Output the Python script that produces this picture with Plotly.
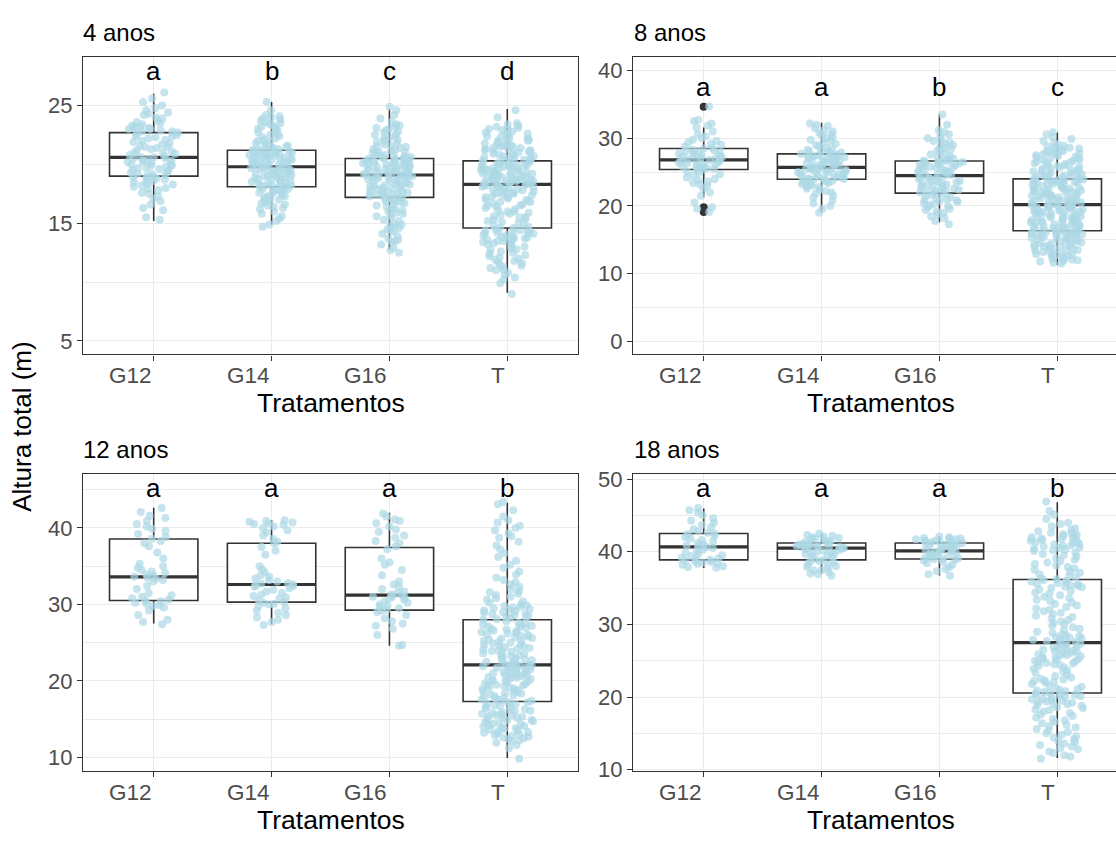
import plotly.graph_objects as go

# ---------------- data ----------------
categorias = ["G12", "G14", "G16", "T"]
idades = ["4 anos", "8 anos", "12 anos", "18 anos"]

letras_4 = ["a", "b", "c", "d"]
letras_8 = ["a", "a", "b", "c"]
letras_12 = ["a", "a", "a", "b"]
letras_18 = ["a", "a", "a", "b"]

# box statistics (lower whisker, Q1, median, Q3, upper whisker)
lo_4 = [15.2, 14.9, 12.8, 9.1]
q1_4 = [19.0, 18.1, 17.2, 14.6]
med_4 = [20.6, 19.8, 19.1, 18.3]
q3_4 = [22.7, 21.2, 20.5, 20.3]
hi_4 = [26.0, 25.3, 24.7, 24.7]

lo_8 = [21.3, 19.1, 17.6, 11.3]
q1_8 = [25.4, 23.95, 21.9, 16.35]
med_8 = [26.8, 25.7, 24.5, 20.2]
q3_8 = [28.5, 27.7, 26.65, 24.0]
hi_8 = [31.6, 32.3, 33.5, 30.85]
outliers_8_G12 = [34.65, 19.8, 19.1]

lo_12 = [27.5, 27.4, 24.6, 9.9]
q1_12 = [30.5, 30.3, 29.25, 17.3]
med_12 = [33.6, 32.6, 31.2, 22.1]
q3_12 = [38.55, 38.0, 37.45, 28.0]
hi_12 = [42.65, 41.0, 42.0, 43.3]

lo_18 = [37.74, 36.98, 36.71, 11.6]
q1_18 = [38.87, 38.87, 39.0, 20.55]
med_18 = [40.66, 40.48, 40.12, 27.5]
q3_18 = [42.5, 41.2, 41.2, 36.17]
hi_18 = [45.96, 42.55, 42.1, 46.8]

# individual tree heights (m)
alt4_G12 = [15.3, 15.5, 16.1, 16.3, 16.6, 16.9, 17.1, 17.3, 17.5, 17.6, 17.8, 17.9, 18.0, 18.1, 18.2, 18.3, 18.4, 18.5, 18.5, 18.6, 18.7, 18.8, 18.8, 18.9, 19.0,
            19.0, 19.1, 19.2, 19.2, 19.3, 19.4, 19.5, 19.5, 19.6, 19.7, 19.7, 19.8, 19.9, 19.9, 20.0, 20.0, 20.1, 20.2, 20.2, 20.3, 20.3, 20.4, 20.5, 20.5, 20.6,
            20.6, 20.7, 20.8, 20.9, 21.0, 21.0, 21.1, 21.2, 21.3, 21.4, 21.5, 21.5, 21.6, 21.7, 21.8, 21.9, 22.0, 22.1, 22.2, 22.3, 22.4, 22.4, 22.5, 22.6, 22.7,
            22.8, 22.8, 22.9, 23.0, 23.0, 23.1, 23.1, 23.2, 23.2, 23.3, 23.4, 23.5, 23.6, 23.7, 23.9, 24.0, 24.2, 24.3, 24.4, 24.6, 24.8, 25.0, 25.3, 25.6, 26.1]
alt4_G14 = [14.7, 14.9, 15.2, 15.4, 15.6, 15.8, 16.0, 16.2, 16.3, 16.4, 16.5, 16.6, 16.7, 16.8, 16.9, 17.0, 17.0, 17.1, 17.2, 17.3, 17.3, 17.4, 17.5, 17.5, 17.6, 17.7, 17.7, 17.8, 17.8, 17.9, 17.9, 18.0, 18.0, 18.1, 18.1,
            18.2, 18.2, 18.3, 18.3, 18.4, 18.4, 18.5, 18.5, 18.6, 18.6, 18.7, 18.7, 18.8, 18.8, 18.9, 18.9, 19.0, 19.0, 19.1, 19.1, 19.2, 19.2, 19.3, 19.3, 19.4, 19.4, 19.5, 19.5, 19.5, 19.6, 19.6, 19.7, 19.7, 19.8, 19.8,
            19.8, 19.9, 19.9, 20.0, 20.0, 20.0, 20.1, 20.1, 20.2, 20.2, 20.3, 20.3, 20.4, 20.4, 20.5, 20.5, 20.5, 20.6, 20.6, 20.7, 20.7, 20.8, 20.8, 20.8, 20.9, 20.9, 21.0, 21.0, 21.0, 21.1, 21.1, 21.1, 21.2, 21.2, 21.2,
            21.3, 21.3, 21.4, 21.5, 21.5, 21.6, 21.7, 21.8, 21.8, 21.9, 22.0, 22.1, 22.2, 22.3, 22.4, 22.5, 22.6, 22.7, 22.8, 22.9, 23.0, 23.1, 23.2, 23.3, 23.4, 23.5, 23.6, 23.7, 23.8, 23.9, 24.0, 24.1, 24.2, 24.6, 25.3]
alt4_G16 = [12.5, 12.7, 12.9, 13.2, 13.4, 13.5, 13.6, 13.7, 13.9, 14.1, 14.3, 14.4, 14.5, 14.6, 14.7, 14.8, 14.9, 15.0, 15.2, 15.3, 15.5, 15.6, 15.7, 15.8, 15.9, 16.0, 16.1, 16.2, 16.3, 16.4, 16.5, 16.6, 16.7, 16.8, 16.9, 16.9, 17.0, 17.1, 17.1, 17.2,
            17.2, 17.3, 17.3, 17.4, 17.4, 17.5, 17.5, 17.6, 17.6, 17.7, 17.7, 17.8, 17.8, 17.9, 17.9, 18.0, 18.0, 18.1, 18.1, 18.2, 18.2, 18.3, 18.3, 18.4, 18.4, 18.5, 18.5, 18.6, 18.6, 18.7, 18.7, 18.8, 18.8, 18.9, 18.9, 19.0, 19.0, 19.0, 19.1, 19.1,
            19.1, 19.2, 19.2, 19.2, 19.3, 19.3, 19.4, 19.4, 19.4, 19.5, 19.5, 19.6, 19.6, 19.6, 19.7, 19.7, 19.8, 19.8, 19.8, 19.9, 19.9, 20.0, 20.0, 20.0, 20.1, 20.1, 20.1, 20.2, 20.2, 20.2, 20.3, 20.3, 20.3, 20.4, 20.4, 20.4, 20.5, 20.5, 20.5, 20.5,
            20.6, 20.6, 20.7, 20.7, 20.8, 20.8, 20.9, 21.0, 21.0, 21.1, 21.2, 21.2, 21.3, 21.4, 21.5, 21.5, 21.6, 21.7, 21.8, 21.9, 22.0, 22.1, 22.2, 22.3, 22.4, 22.5, 22.6, 22.7, 22.8, 22.9, 23.0, 23.1, 23.2, 23.3, 23.4, 23.6, 23.9, 24.2, 24.6, 24.9]
alt4_T = [9.0, 9.9, 10.2, 10.4, 10.6, 10.8, 11.0, 11.1, 11.2, 11.3, 11.4, 11.5, 11.6, 11.7, 11.8, 11.9, 12.0, 12.1, 12.2, 12.3, 12.4, 12.5, 12.6, 12.7, 12.8, 12.9, 13.0, 13.1, 13.2, 13.3, 13.3, 13.4, 13.4, 13.5, 13.5, 13.6, 13.6, 13.7, 13.7, 13.8, 13.8, 13.9, 13.9, 14.0, 14.0, 14.1, 14.1, 14.2, 14.2, 14.3, 14.3, 14.4, 14.4, 14.5, 14.6,
          14.6, 14.7, 14.8, 14.9, 15.0, 15.1, 15.2, 15.3, 15.4, 15.5, 15.5, 15.6, 15.7, 15.8, 15.9, 16.0, 16.0, 16.1, 16.2, 16.3, 16.4, 16.5, 16.5, 16.6, 16.7, 16.8, 16.8, 16.9, 17.0, 17.0, 17.1, 17.2, 17.2, 17.3, 17.4, 17.4, 17.5, 17.5, 17.6, 17.6, 17.7, 17.7, 17.8, 17.8, 17.9, 17.9, 18.0, 18.0, 18.1, 18.1, 18.1, 18.2, 18.2, 18.3, 18.3,
          18.3, 18.4, 18.4, 18.4, 18.5, 18.5, 18.5, 18.6, 18.6, 18.6, 18.7, 18.7, 18.7, 18.8, 18.8, 18.8, 18.9, 18.9, 18.9, 19.0, 19.0, 19.0, 19.1, 19.1, 19.1, 19.2, 19.2, 19.2, 19.3, 19.3, 19.4, 19.4, 19.4, 19.5, 19.5, 19.5, 19.6, 19.6, 19.7, 19.7, 19.7, 19.8, 19.8, 19.8, 19.9, 19.9, 19.9, 20.0, 20.0, 20.1, 20.1, 20.1, 20.2, 20.2, 20.3,
          20.3, 20.4, 20.4, 20.5, 20.5, 20.6, 20.6, 20.7, 20.7, 20.8, 20.8, 20.9, 20.9, 21.0, 21.0, 21.1, 21.1, 21.2, 21.2, 21.3, 21.3, 21.4, 21.4, 21.5, 21.5, 21.6, 21.6, 21.7, 21.7, 21.8, 21.9, 21.9, 22.0, 22.0, 22.1, 22.2, 22.2, 22.3, 22.3, 22.4, 22.5, 22.6, 22.6, 22.7, 22.8, 22.9, 23.0, 23.0, 23.1, 23.2, 23.3, 23.4, 23.5, 24.0, 24.6]

alt8_G12 = [19.1, 19.6, 19.8, 20.5, 21.5, 22.0, 22.6, 23.0, 23.2, 23.4, 23.6, 23.8, 24.0, 24.2, 24.5, 24.7, 24.9, 25.1, 25.3,
            25.4, 25.5, 25.6, 25.7, 25.8, 25.9, 26.0, 26.1, 26.2, 26.3, 26.4, 26.5, 26.6, 26.7, 26.8, 26.8,
            26.9, 27.0, 27.1, 27.2, 27.3, 27.4, 27.5, 27.6, 27.7, 27.8, 27.9, 28.0, 28.1, 28.2, 28.3, 28.5,
            28.6, 28.8, 29.0, 29.2, 29.4, 29.6, 29.8, 30.0, 30.3, 30.6, 31.0, 31.6, 31.9, 32.2, 32.5, 32.7, 34.7]
alt8_G14 = [19.0, 19.6, 20.0, 20.4, 20.8, 21.2, 21.5, 21.8, 22.0, 22.2, 22.4, 22.6, 22.8, 22.9, 23.0, 23.1, 23.2, 23.3, 23.4, 23.5, 23.6, 23.7, 23.8, 23.9, 23.9,
            24.0, 24.1, 24.1, 24.2, 24.3, 24.4, 24.4, 24.5, 24.6, 24.7, 24.8, 24.8, 24.9, 25.0, 25.0, 25.1, 25.2, 25.2, 25.3, 25.4, 25.4, 25.5, 25.6, 25.6, 25.7,
            25.8, 25.9, 26.0, 26.0, 26.1, 26.2, 26.3, 26.4, 26.5, 26.6, 26.6, 26.7, 26.8, 26.9, 27.0, 27.0, 27.1, 27.2, 27.3, 27.3, 27.4, 27.5, 27.5, 27.6, 27.7,
            27.8, 27.9, 28.0, 28.1, 28.2, 28.3, 28.4, 28.6, 28.8, 29.0, 29.2, 29.4, 29.6, 29.8, 30.0, 30.2, 30.4, 30.6, 30.8, 31.0, 31.2, 31.5, 31.8, 32.0, 32.2]
alt8_G16 = [17.3, 17.8, 18.2, 18.5, 18.8, 19.0, 19.2, 19.4, 19.6, 19.8, 20.0, 20.1, 20.3, 20.4, 20.6, 20.7, 20.8, 20.9, 21.0, 21.2, 21.3, 21.5, 21.6, 21.8, 21.9,
            22.0, 22.1, 22.2, 22.3, 22.4, 22.5, 22.6, 22.7, 22.8, 22.9, 23.0, 23.1, 23.2, 23.3, 23.4, 23.5, 23.6, 23.7, 23.8, 23.9, 24.0, 24.1, 24.2, 24.3, 24.5,
            24.5, 24.6, 24.7, 24.8, 24.9, 25.0, 25.1, 25.2, 25.3, 25.4, 25.5, 25.6, 25.7, 25.8, 25.9, 26.0, 26.1, 26.2, 26.3, 26.3, 26.4, 26.5, 26.5, 26.6, 26.6,
            26.7, 26.8, 26.9, 27.0, 27.2, 27.4, 27.6, 27.8, 28.0, 28.2, 28.4, 28.6, 28.8, 29.0, 29.2, 29.4, 29.6, 29.8, 30.0, 30.3, 30.6, 30.9, 31.2, 32.0, 33.5]
alt8_T = [11.5, 11.6, 11.8, 11.9, 12.0, 12.1, 12.2, 12.3, 12.4, 12.5, 12.6, 12.7, 12.8, 12.9, 13.0, 13.1, 13.2, 13.3, 13.4, 13.5, 13.5, 13.6, 13.7, 13.8, 13.9, 14.0, 14.0, 14.1, 14.2, 14.3, 14.4, 14.5, 14.5, 14.6, 14.7, 14.8, 14.9, 15.0, 15.0, 15.1, 15.2, 15.3, 15.4, 15.4, 15.5, 15.6, 15.6, 15.7, 15.8, 15.8, 15.9, 15.9, 16.0, 16.0, 16.1, 16.1, 16.2, 16.2, 16.3, 16.3,
          16.4, 16.5, 16.5, 16.6, 16.7, 16.7, 16.8, 16.9, 16.9, 17.0, 17.1, 17.1, 17.2, 17.3, 17.3, 17.4, 17.5, 17.5, 17.6, 17.7, 17.7, 17.8, 17.9, 17.9, 18.0, 18.1, 18.1, 18.2, 18.3, 18.3, 18.4, 18.5, 18.5, 18.6, 18.7, 18.7, 18.8, 18.9, 18.9, 19.0, 19.1, 19.1, 19.2, 19.3, 19.3, 19.4, 19.5, 19.5, 19.6, 19.7, 19.7, 19.8, 19.8, 19.9, 19.9, 20.0, 20.0, 20.1, 20.1, 20.2,
          20.2, 20.3, 20.3, 20.4, 20.5, 20.5, 20.6, 20.7, 20.7, 20.8, 20.9, 20.9, 21.0, 21.1, 21.1, 21.2, 21.3, 21.3, 21.4, 21.5, 21.5, 21.6, 21.7, 21.7, 21.8, 21.9, 21.9, 22.0, 22.1, 22.1, 22.2, 22.3, 22.3, 22.4, 22.5, 22.5, 22.6, 22.7, 22.7, 22.8, 22.9, 22.9, 23.0, 23.1, 23.1, 23.2, 23.3, 23.3, 23.4, 23.5, 23.5, 23.6, 23.6, 23.7, 23.7, 23.8, 23.8, 23.9, 23.9, 24.0,
          24.0, 24.1, 24.2, 24.3, 24.3, 24.4, 24.5, 24.6, 24.7, 24.7, 24.8, 24.9, 25.0, 25.1, 25.2, 25.2, 25.3, 25.4, 25.5, 25.6, 25.7, 25.8, 25.9, 26.0, 26.1, 26.2, 26.3, 26.4, 26.5, 26.6, 26.7, 26.8, 26.9, 27.0, 27.1, 27.2, 27.3, 27.4, 27.5, 27.6, 27.7, 27.8, 27.9, 28.0, 28.1, 28.2, 28.3, 28.4, 28.5, 28.6, 28.7, 28.8, 28.9, 29.1, 29.3, 29.6, 29.9, 30.2, 30.6, 30.9]

alt12_G12 = [27.4, 27.7, 28.0, 28.6, 29.2, 29.6, 29.8, 29.9, 30.1, 30.2, 30.4, 30.5,
             30.6, 30.8, 31.0, 31.2, 31.5, 32.0, 32.4, 33.0, 33.2, 33.4, 33.5, 33.6,
             33.7, 33.9, 34.1, 34.3, 34.5, 34.8, 35.0, 35.3, 36.0, 36.8, 37.6, 38.0, 38.3,
             38.6, 38.8, 39.2, 39.6, 39.9, 40.2, 40.5, 40.9, 41.3, 41.6, 42.1, 42.6]
alt12_G14 = [27.3, 27.7, 28.0, 28.3, 28.6, 28.9, 29.2, 29.5, 29.8, 30.0, 30.1, 30.2, 30.3,
             30.5, 30.7, 30.9, 31.1, 31.3, 31.5, 31.7, 31.9, 32.1, 32.3, 32.4, 32.5, 32.6,
             32.7, 32.8, 33.0, 33.2, 33.4, 33.6, 33.8, 34.2, 34.6, 35.0, 36.5, 37.0, 37.5, 38.0,
             38.2, 38.6, 39.0, 39.4, 39.7, 40.0, 40.2, 40.4, 40.5, 40.6, 40.7, 40.8, 40.9, 41.0]
alt12_G16 = [24.6, 24.7, 26.0, 26.8, 27.2, 27.5, 27.8, 28.2, 28.6, 29.0, 29.2, 29.3,
             29.5, 29.7, 29.9, 30.0, 30.2, 30.4, 30.6, 30.8, 30.9, 31.0, 31.1, 31.2,
             31.3, 31.5, 31.7, 32.0, 32.3, 32.6, 33.0, 33.8, 34.5, 35.2, 35.5, 36.0, 37.2,
             37.6, 38.0, 38.3, 38.7, 39.0, 39.5, 39.8, 40.2, 40.6, 40.9, 41.1, 41.5, 41.9]
alt12_T = [9.8, 11.2, 11.6, 11.9, 12.1, 12.2, 12.4, 12.5, 12.6, 12.7, 12.8, 12.9, 13.0, 13.1, 13.2, 13.3, 13.4, 13.5, 13.6, 13.7, 13.8, 13.9, 14.0, 14.1, 14.2, 14.3, 14.4, 14.5, 14.6, 14.7, 14.8, 14.9, 15.0, 15.1, 15.2, 15.3, 15.4, 15.5, 15.5, 15.6, 15.7, 15.8, 15.9, 16.0, 16.1, 16.2, 16.3, 16.4, 16.5, 16.6, 16.7, 16.8, 16.9, 17.0, 17.1, 17.2, 17.3,
           17.4, 17.5, 17.6, 17.7, 17.8, 17.9, 18.0, 18.1, 18.2, 18.3, 18.4, 18.5, 18.6, 18.7, 18.8, 18.9, 19.0, 19.1, 19.2, 19.3, 19.4, 19.5, 19.5, 19.6, 19.7, 19.8, 19.9, 20.0, 20.0, 20.1, 20.2, 20.3, 20.4, 20.5, 20.5, 20.6, 20.7, 20.8, 20.9, 21.0, 21.0, 21.1, 21.2, 21.3, 21.4, 21.4, 21.5, 21.6, 21.7, 21.7, 21.8, 21.9, 21.9, 22.0, 22.0, 22.1, 22.1,
           22.2, 22.3, 22.4, 22.5, 22.6, 22.7, 22.8, 22.9, 23.0, 23.1, 23.2, 23.3, 23.4, 23.5, 23.6, 23.7, 23.8, 23.9, 24.0, 24.1, 24.2, 24.3, 24.4, 24.5, 24.6, 24.7, 24.8, 24.9, 25.0, 25.1, 25.2, 25.3, 25.4, 25.5, 25.6, 25.7, 25.8, 25.9, 26.0, 26.1, 26.2, 26.3, 26.4, 26.5, 26.6, 26.7, 26.8, 26.9, 27.0, 27.1, 27.2, 27.3, 27.4, 27.5, 27.6, 27.8, 28.0,
           28.1, 28.2, 28.3, 28.4, 28.5, 28.6, 28.7, 28.8, 28.9, 29.0, 29.1, 29.2, 29.3, 29.4, 29.5, 29.6, 29.7, 29.8, 29.9, 30.0, 30.2, 30.4, 30.6, 30.8, 31.0, 31.2, 31.4, 31.6, 31.8, 32.0, 32.3, 32.6, 32.9, 33.2, 33.5, 33.9, 34.3, 34.8, 35.2, 35.7, 36.2, 36.7, 37.2, 37.7, 38.2, 38.7, 38.9, 39.3, 39.7, 40.0, 40.3, 40.7, 41.0, 41.5, 42.3, 43.1, 43.4]

alt18_G12 = [37.8, 37.9, 38.0, 38.2, 38.3, 38.4, 38.5, 38.6, 38.7, 38.8, 38.9,
             39.0, 39.1, 39.2, 39.4, 39.5, 39.7, 39.9, 40.1, 40.3, 40.5, 40.6,
             40.7, 40.9, 41.0, 41.2, 41.4, 41.6, 41.8, 42.0, 42.2, 42.4, 42.5,
             42.6, 42.8, 43.1, 43.4, 43.7, 44.0, 44.3, 44.6, 45.0, 45.4, 45.7, 46.0]
alt18_G14 = [36.7, 36.9, 37.0, 37.2, 37.4, 37.5, 37.7, 37.9, 38.0, 38.2, 38.3, 38.5, 38.6, 38.7,
             38.9, 39.0, 39.2, 39.3, 39.5, 39.6, 39.7, 39.8, 39.9, 40.0, 40.1, 40.2, 40.3, 40.4,
             40.5, 40.5, 40.6, 40.6, 40.7, 40.7, 40.8, 40.8, 40.9, 40.9, 41.0, 41.0, 41.1, 41.2,
             41.3, 41.4, 41.5, 41.6, 41.7, 41.8, 41.9, 42.0, 42.1, 42.2, 42.3, 42.5]
alt18_G16 = [36.7, 36.9, 37.3, 37.6, 37.9, 38.2, 38.4, 38.6, 38.8, 38.9, 39.0, 39.0,
             39.1, 39.2, 39.3, 39.4, 39.5, 39.6, 39.7, 39.8, 39.9, 40.0, 40.1, 40.1,
             40.2, 40.3, 40.4, 40.5, 40.6, 40.7, 40.8, 40.9, 41.0, 41.0, 41.1, 41.2, 41.2,
             41.3, 41.4, 41.5, 41.5, 41.6, 41.7, 41.7, 41.8, 41.8, 41.9, 42.0, 42.1]
alt18_T = [11.5, 11.8, 12.0, 12.3, 12.5, 12.8, 13.0, 13.2, 13.4, 13.6, 13.8, 14.0, 14.2, 14.4, 14.6, 14.8, 15.0, 15.2, 15.4, 15.6, 15.8, 16.0, 16.2, 16.4, 16.6, 16.8, 17.0, 17.2, 17.4, 17.6, 17.8, 18.0, 18.2, 18.3, 18.5, 18.6, 18.8, 18.9, 19.0, 19.1, 19.2, 19.3, 19.4, 19.5, 19.6, 19.7, 19.8, 19.9, 20.0, 20.1, 20.2, 20.3, 20.4, 20.5, 20.5,
           20.6, 20.7, 20.8, 20.9, 21.0, 21.1, 21.2, 21.4, 21.6, 21.8, 22.0, 22.1, 22.2, 22.3, 22.4, 22.5, 22.7, 22.9, 23.1, 23.3, 23.5, 23.7, 23.9, 24.1, 24.3, 24.4, 24.5, 24.6, 24.7, 24.8, 24.9, 25.0, 25.1, 25.2, 25.3, 25.4, 25.5, 25.6, 25.7, 25.8, 25.9, 26.0, 26.1, 26.2, 26.3, 26.4, 26.5, 26.6, 26.7, 26.8, 26.9, 27.0, 27.1, 27.3, 27.5,
           27.6, 27.7, 27.8, 27.9, 28.0, 28.1, 28.2, 28.3, 28.4, 28.5, 28.6, 28.8, 29.0, 29.2, 29.4, 29.6, 29.8, 30.0, 30.2, 30.4, 30.6, 30.8, 31.0, 31.2, 31.4, 31.6, 31.8, 32.0, 32.2, 32.4, 32.6, 32.8, 33.0, 33.2, 33.4, 33.6, 33.8, 34.0, 34.2, 34.4, 34.6, 34.8, 35.0, 35.1, 35.2, 35.3, 35.4, 35.5, 35.6, 35.7, 35.8, 35.9, 36.0, 36.1, 36.2,
           36.3, 36.5, 36.7, 36.9, 37.1, 37.3, 37.5, 37.7, 37.9, 38.1, 38.3, 38.5, 38.7, 38.9, 39.1, 39.3, 39.5, 39.7, 39.9, 40.1, 40.2, 40.3, 40.4, 40.5, 40.6, 40.7, 40.8, 40.9, 41.0, 41.1, 41.2, 41.3, 41.4, 41.5, 41.6, 41.7, 41.8, 41.9, 42.0, 42.1, 42.2, 42.3, 42.4, 42.5, 42.6, 42.8, 43.0, 43.2, 43.5, 43.8, 44.0, 44.5, 45.1, 45.6, 46.9]

y_ticks_4 = [5, 15, 25]
y_ticks_8 = [0, 10, 20, 30, 40]
y_ticks_12 = [10, 20, 30, 40]
y_ticks_18 = [10, 20, 30, 40, 50]

# ---------------- style / layout ----------------
W, H = 1116, 842
FONT = "Liberation Sans, Arial, sans-serif"
BOX_COLOR = "#333333"
PT_COLOR = "#ADD8E6"
GRID = "#EBEBEB"
TICK_TXT = "#4D4D4D"

px_x = lambda p: p / W
px_y = lambda p: 1 - p / H

panels = [
    dict(name=idades[0], pts=[alt4_G12, alt4_G14, alt4_G16, alt4_T], lo=lo_4, q1=q1_4, med=med_4, q3=q3_4, hi=hi_4,
         letters=letras_4, ticks=y_ticks_4, yrange=[3.86, 29.13], letter_y=27.95,
         xdom=[px_x(83), px_x(578)], ydom=[px_y(355), px_y(51)], right=False),
    dict(name=idades[1], pts=[alt8_G12, alt8_G14, alt8_G16, alt8_T], lo=lo_8, q1=q1_8, med=med_8, q3=q3_8, hi=hi_8,
         letters=letras_8, ticks=y_ticks_8, yrange=[-1.92, 42.02], letter_y=37.55,
         xdom=[px_x(633), 1.0], ydom=[px_y(355), px_y(51)], right=True),
    dict(name=idades[2], pts=[alt12_G12, alt12_G14, alt12_G16, alt12_T], lo=lo_12, q1=q1_12, med=med_12, q3=q3_12, hi=hi_12,
         letters=letras_12, ticks=y_ticks_12, yrange=[8.17, 47.08], letter_y=45.16,
         xdom=[px_x(83), px_x(578)], ydom=[px_y(781), px_y(477)], right=False),
    dict(name=idades[3], pts=[alt18_G12, alt18_G14, alt18_G16, alt18_T], lo=lo_18, q1=q1_18, med=med_18, q3=q3_18, hi=hi_18,
         letters=letras_18, ticks=y_ticks_18, yrange=[9.78, 50.72], letter_y=48.70,
         xdom=[px_x(633), 1.0], ydom=[px_y(781), px_y(477)], right=True),
]

fig = go.Figure()
annotations = []
layout_axes = {}

for i, p in enumerate(panels):
    k = "" if i == 0 else str(i + 1)
    xa, ya = "x" + k, "y" + k
    # box body
    fig.add_trace(go.Box(
        x=categorias, q1=p["q1"], median=p["med"], q3=p["q3"],
        lowerfence=p["lo"], upperfence=p["hi"], width=0.75, whiskerwidth=0,
        fillcolor="white", line=dict(color=BOX_COLOR, width=1.6), boxpoints=False,
        hoverinfo="skip", xaxis=xa, yaxis=ya))
    # thick median
    fig.add_trace(go.Box(
        x=categorias, q1=p["med"], median=p["med"], q3=p["med"],
        lowerfence=p["med"], upperfence=p["med"], width=0.75, whiskerwidth=0,
        fillcolor="rgba(0,0,0,0)", line=dict(color=BOX_COLOR, width=3.2), boxpoints=False,
        hoverinfo="skip", xaxis=xa, yaxis=ya))
    # boxplot outliers (8 anos, G12)
    if i == 1:
        fig.add_trace(go.Box(
            x=[categorias[0]] * len(outliers_8_G12), y=outliers_8_G12, width=0.75,
            boxpoints="all", jitter=0, pointpos=0, whiskerwidth=0,
            fillcolor="rgba(0,0,0,0)", line=dict(color="rgba(0,0,0,0)", width=0),
            marker=dict(color=BOX_COLOR, size=8, line=dict(width=0)),
            hoverinfo="y", xaxis=xa, yaxis=ya))
    # jittered points
    xs, ys = [], []
    for c, vals in zip(categorias, p["pts"]):
        xs += [c] * len(vals)
        ys += vals
    fig.add_trace(go.Box(
        x=xs, y=ys, width=0.75, boxpoints="all", jitter=0.6, pointpos=0, whiskerwidth=0,
        fillcolor="rgba(0,0,0,0)", line=dict(color="rgba(0,0,0,0)", width=0),
        marker=dict(color=PT_COLOR, opacity=0.7, size=8, line=dict(width=0)),
        hoverinfo="y", xaxis=xa, yaxis=ya))

    xrange = [-0.6, 3.6] if not p["right"] else [-0.6, 3.6 - (1128 - 1116) / 117.9]
    layout_axes["xaxis" + k] = dict(
        domain=p["xdom"], anchor=ya, type="category", categoryorder="array", categoryarray=categorias,
        range=xrange, showticklabels=False, ticks="outside", ticklen=5, tickwidth=1.3, tickcolor=BOX_COLOR,
        showgrid=True, gridcolor=GRID, gridwidth=1.2, zeroline=False,
        showline=True, linecolor=BOX_COLOR, linewidth=1.3, mirror=True)
    layout_axes["yaxis" + k] = dict(
        domain=p["ydom"], anchor=xa, range=p["yrange"], tickvals=p["ticks"],
        ticks="outside", ticklen=5, tickwidth=1.3, tickcolor=BOX_COLOR,
        tickfont=dict(family=FONT, size=22, color=TICK_TXT),
        showgrid=True, gridcolor=GRID, gridwidth=1.2, zeroline=False,
        minor=dict(dtick=5, tick0=0, showgrid=True, gridcolor=GRID, gridwidth=0.7),
        showline=True, linecolor=BOX_COLOR, linewidth=1.3, mirror=not p["right"])

    # facet title
    top_px = 51 if i < 2 else 477
    bottom_px = 355 if i < 2 else 781
    left_px = 83 if not p["right"] else 634
    annotations.append(dict(text=p["name"], xref="paper", yref="paper", x=px_x(left_px - 2),
                            y=px_y(top_px - 24.5), xanchor="left", yanchor="middle", showarrow=False,
                            font=dict(family=FONT, size=24, color="black")))
    # significance letters
    for c, L in zip(categorias, p["letters"]):
        annotations.append(dict(text=L, xref=xa, yref=ya, x=c, y=p["letter_y"], xanchor="center",
                                yanchor="middle", showarrow=False,
                                font=dict(family=FONT, size=26, color="black")))
    # x tick labels (right aligned at the tick)
    for c in categorias:
        annotations.append(dict(text=c, xref=xa, yref="paper", x=c, y=px_y(bottom_px + 21.4),
                                xanchor="right", yanchor="middle", showarrow=False,
                                font=dict(family=FONT, size=22.5, color=TICK_TXT)))
    # x axis title
    cx = (83 + 578) / 2 if not p["right"] else (633 + 1128) / 2
    annotations.append(dict(text="Tratamentos", xref="paper", yref="paper", x=px_x(cx),
                            y=px_y(bottom_px + 49.3), xanchor="center", yanchor="middle", showarrow=False,
                            font=dict(family=FONT, size=26.5, color="black")))

annotations.append(dict(text="Altura total (m)", xref="paper", yref="paper", x=px_x(22), y=px_y(429),
                        xanchor="center", yanchor="middle", textangle=-90, showarrow=False,
                        font=dict(family=FONT, size=26, color="black")))

fig.update_layout(
    width=W, height=H, margin=dict(l=0, r=0, t=0, b=0),
    paper_bgcolor="white", plot_bgcolor="white", showlegend=False,
    boxmode="overlay", annotations=annotations, **layout_axes)

fig.write_html("out.html")
